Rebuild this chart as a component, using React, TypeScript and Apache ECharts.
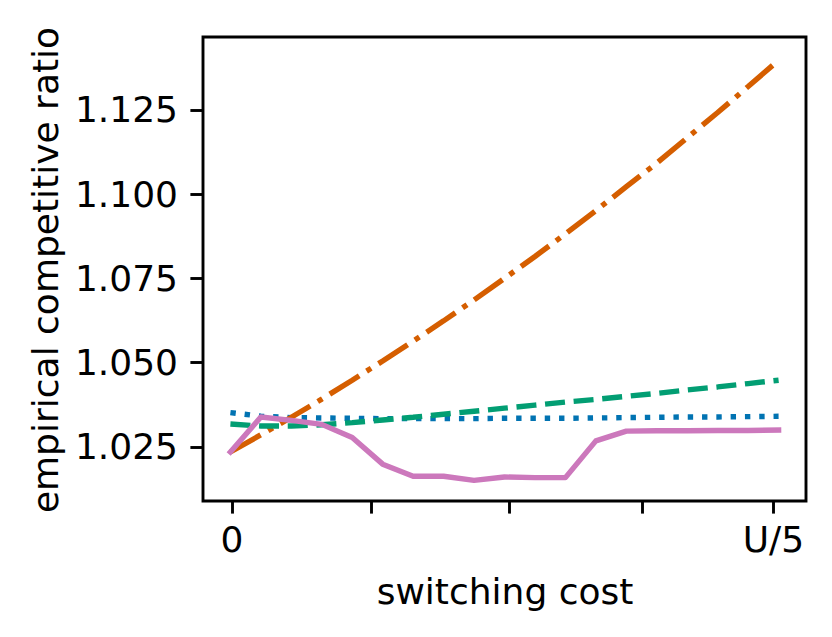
import React, { useEffect, useRef } from "react";
import * as echarts from "echarts";

// switching cost steps (uniform grid from 0 to U/5)
const costSteps = [0, 1, 2, 3, 4, 5, 6, 7, 8, 9, 10, 11, 12, 13, 14, 15, 16, 17, 18];

const blueDotted = [1.0352, 1.0341, 1.0337, 1.0336, 1.0335, 1.0334, 1.0334, 1.0334, 1.0334, 1.0335, 1.0335, 1.0335, 1.0336, 1.0337, 1.0338, 1.0339, 1.0339, 1.034, 1.0341];
const orangeDashDot = [1.0235, 1.0286, 1.0338, 1.0392, 1.0448, 1.0505, 1.0564, 1.0624, 1.0686, 1.075, 1.0815, 1.0882, 1.0951, 1.1022, 1.1092, 1.1167, 1.1242, 1.1319, 1.1397];
const greenDashed = [1.0318, 1.0312, 1.0312, 1.0316, 1.0322, 1.033, 1.0338, 1.0347, 1.0356, 1.0365, 1.0374, 1.0383, 1.0391, 1.04, 1.0409, 1.0419, 1.0428, 1.0438, 1.0448];
const pinkSolid = [1.0235, 1.0339, 1.0329, 1.0317, 1.0278, 1.0199, 1.0163, 1.0163, 1.0151, 1.0161, 1.0159, 1.0159, 1.0268, 1.0297, 1.0298, 1.0298, 1.0299, 1.0299, 1.03];

const xTickPositions = [0.05, 4.62, 9.15, 13.52, 17.83];
const xTickLabels = ["0", "", "", "", "U/5"];
const yTickValues = [1.025, 1.05, 1.075, 1.1, 1.125];

const FONT = "DejaVu Sans";

export default function App() {
  const ref = useRef<HTMLDivElement>(null);
  useEffect(() => {
    if (!ref.current) return;
    const chart = echarts.init(ref.current, undefined, { renderer: "svg" });
    const pair = (ys: number[]) => costSteps.map((x, i) => [x, ys[i]]);
    const lw = 5.4;
    chart.setOption({
      animation: false,
      backgroundColor: "#ffffff",
      grid: {
        left: 203,
        right: 26,
        top: 37,
        bottom: 136,
        show: true,
        borderColor: "#000",
        borderWidth: 2.9,
        backgroundColor: "transparent",
      },
      xAxis: {
        type: "value",
        min: -0.9,
        max: 18.9,
        axisLine: { show: false, onZero: false },
        splitLine: { show: false },
        axisTick: {
          show: true,
          length: 12.6,
          customValues: xTickPositions,
          lineStyle: { color: "#000", width: 2.9 },
        },
        axisLabel: {
          customValues: [xTickPositions[0], xTickPositions[4]],
          formatter: (v: number) => {
            const idx = xTickPositions.findIndex((p) => Math.abs(p - v) < 1e-6);
            return idx >= 0 ? xTickLabels[idx] : "";
          },
          margin: 20,
          color: "#000",
          fontSize: 36,
          fontFamily: FONT,
        },
      },
      yAxis: {
        type: "value",
        min: 1.00897,
        max: 1.14659,
        axisLine: { show: false, onZero: false },
        splitLine: { show: false },
        axisTick: {
          show: true,
          length: 12.6,
          customValues: yTickValues,
          lineStyle: { color: "#000", width: 2.9 },
        },
        axisLabel: {
          customValues: yTickValues,
          formatter: (v: number) => v.toFixed(3),
          margin: 25,
          color: "#000",
          fontSize: 36,
          fontFamily: FONT,
        },
      },
      graphic: [
        {
          type: "text",
          x: 505,
          y: 591,
          style: {
            text: "switching cost",
            fontSize: 36,
            fontFamily: FONT,
            fill: "#000",
            textAlign: "center",
            textVerticalAlign: "middle",
          },
        },
        {
          type: "text",
          x: 45,
          y: 270,
          rotation: Math.PI / 2,
          style: {
            text: "empirical competitive ratio",
            fontSize: 36,
            fontFamily: FONT,
            fill: "#000",
            textAlign: "center",
            textVerticalAlign: "middle",
          },
        },
      ],
      series: [
        {
          type: "line",
          data: pair(blueDotted),
          showSymbol: false,
          symbol: "none",
          lineStyle: { color: "#0173b2", width: lw, type: [5.4, 8.9], cap: "butt" },
          z: 2,
        },
        {
          type: "line",
          data: pair(orangeDashDot),
          showSymbol: false,
          symbol: "none",
          lineStyle: { color: "#d55e00", width: lw, type: [34.7, 8.7, 5.4, 8.7], cap: "butt" },
          z: 3,
        },
        {
          type: "line",
          data: pair(greenDashed),
          showSymbol: false,
          symbol: "none",
          lineStyle: { color: "#029e73", width: lw, type: [20, 8.7], cap: "butt" },
          z: 4,
        },
        {
          type: "line",
          data: pair(pinkSolid),
          showSymbol: false,
          symbol: "none",
          lineStyle: { color: "#cc78bc", width: lw, type: "solid", cap: "square", join: "round" },
          z: 5,
        },
      ],
    });
    return () => chart.dispose();
  }, []);
  return (
    <div
      ref={ref}
      style={{ position: "fixed", left: 0, top: 0, width: 832, height: 637, background: "#fff" }}
    />
  );
}
